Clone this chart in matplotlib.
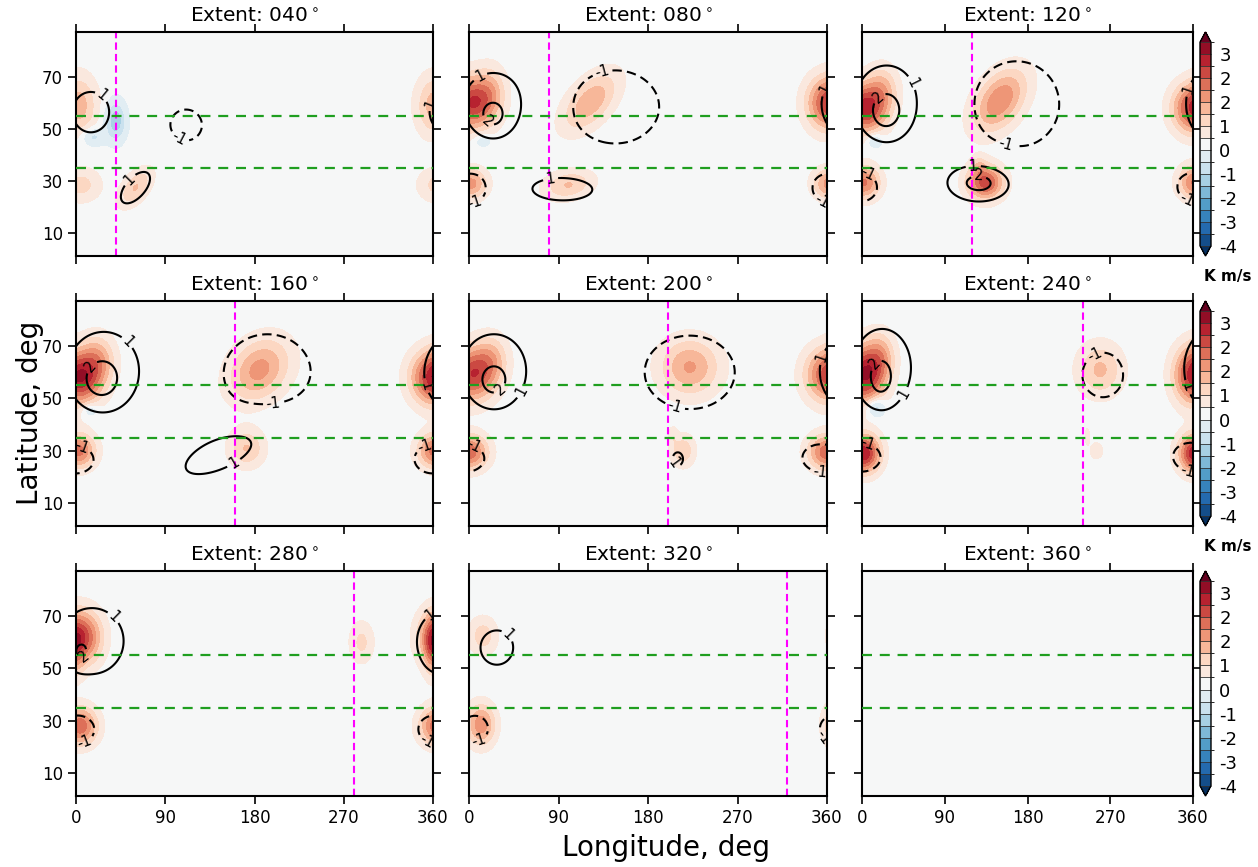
import numpy as np
import matplotlib
matplotlib.use("Agg")
import matplotlib.pyplot as plt
from matplotlib.colors import BoundaryNorm

# ---------------- data ----------------
extents = [40, 80, 120, 160, 200, 240, 280, 320, 360]
lat_lines = [35, 55]
x_ticks = [0, 90, 180, 270, 360]
y_ticks = [10, 30, 50, 70]
shade_levels = [-4.0, -3.5, -3.0, -2.5, -2.0, -1.5, -1.0, -0.5, 0.0,
                0.375, 0.75, 1.125, 1.5, 1.875, 2.25, 2.625, 3.0, 3.375]
cbar_ticks = [-4.0, -3.0, -2.0, -1.0, 0.0, 0.75, 1.5, 2.25, 3.0]
cbar_ticklabels = ['-4', '-3', '-2', '-1', '0', '1', '2', '2', '3']
line_levels = [-2, -1, 1, 2]
background_value = 0.15

# anomaly features: (lon, lat, amplitude, lon-width, lat-width, tilt)
shade_040 = [(2, 59, 1.2, 13, 8.0, 0.0), (5, 28.5, 0.75, 14, 4.5, 0.0),
             (40, 53, -1.6, 7, 5.0, 0.0), (17, 47, -0.9, 8, 2.5, 0.0),
             (60, 27.5, 1.0, 11.5, 4.2, 0.24)]
lines_040 = [(15, 56.5, 1.6, 19, 8, 0.0), (111, 51.5, -1.4, 19.5, 7.3, 0.0),
             (60, 27.5, 1.4, 18, 6, 0.24)]

shade_080 = [(2, 60, 2.4, 15, 7.0, 0.0), (22, 64, 0.9, 11, 7.0, 0.0),
             (122, 60.5, 1.3, 19, 6.5, 0.22), (2, 29, 1.5, 11, 4.0, 0.0),
             (100, 28.5, 1.0, 17, 3.8, 0.05), (14, 45.5, -0.7, 6, 1.8, 0.0)]
lines_080 = [(25, 60, 1.6, 31, 12, 0.0), (24, 54.5, 0.9, 11, 4.5, 0.0),
             (147, 58.5, -1.9, 39, 12.4, 0.0),
             (95, 27, 1.6, 32, 4.6, 0.0), (2, 27.5, -1.6, 17.5, 6.2, 0.0)]

shade_120 = [(2, 58, 2.6, 16, 6.5, 0.0), (22, 65, 1.0, 12, 6.5, 0.0),
             (150, 61, 1.7, 20, 7.5, 0.18), (134, 29.5, 2.3, 13.5, 4.5, 0.0),
             (127, 36, 0.5, 5, 2.5, 0.0), (2, 29.5, 1.8, 12, 4.4, 0.0),
             (14, 45.5, -0.9, 6, 2.0, 0.0)]
lines_120 = [(27, 61, 1.7, 32, 13, 0.0), (26, 55, 0.9, 15, 6, 0.0),
             (168, 59.5, -1.9, 41, 14.6, 0.0),
             (128, 29.5, 2.4, 27, 5.7, 0.0), (0, 28, -1.6, 18, 6, 0.0)]

shade_160 = [(2, 58, 2.8, 16, 7.0, 0.0), (22, 65, 1.1, 12, 6.5, 0.0),
             (185, 61, 1.5, 21, 8.0, 0.1), (2, 30, 1.9, 12, 4.6, 0.0),
             (172, 31, 1.0, 12.5, 5.0, 0.0), (14, 45.5, -0.8, 6, 1.8, 0.0)]
lines_160 = [(28, 61, 1.7, 34, 14, 0.0), (25, 56, 0.9, 15, 6, 0.0),
             (193, 59.5, -1.9, 39, 13.3, 0.0),
             (150, 30, 1.5, 44, 7.5, 0.15), (0, 27, -1.6, 20, 6, 0.0)]

shade_200 = [(2, 59, 2.3, 16, 7.0, 0.0), (22, 65, 1.0, 12, 6.5, 0.0),
             (222, 62, 1.4, 20.5, 7.5, 0.0), (0, 29.5, 2.0, 13, 4.6, 0.0),
             (215, 30, 0.9, 8.5, 4.2, 0.0), (205, 36, 0.4, 3, 2.5, 0.0)]
lines_200 = [(25, 61, 1.6, 33, 14, 0.0), (25, 56, 0.9, 12, 5, 0.0),
             (222, 60, -1.9, 40, 12.4, 0.0),
             (210, 27, 1.3, 8, 4, 0.0), (356, 27.5, -1.6, 22, 6, 0.0)]

shade_240 = [(2, 59, 2.8, 15, 7.5, 0.0), (20, 66, 1.1, 11, 6.5, 0.0),
             (259, 61, 1.05, 17, 7.0, 0.0), (245, 35.5, 0.45, 2, 2.5, 0.0),
             (255, 30, 0.55, 5, 2.3, 0.0), (2, 29, 2.8, 12, 5.0, 0.0),
             (15, 46.5, -1.2, 7, 2.5, 0.0)]
lines_240 = [(22, 62, 1.6, 32, 15, 0.0), (20, 57, 0.9, 11, 6, 0.0),
             (262, 59, -1.6, 23, 8.8, 0.0), (0, 28, -1.7, 22, 6, 0.0)]

shade_280 = [(6, 62, 2.3, 13.5, 7.0, 0.0), (288, 60, 0.7, 8.5, 5.5, 0.0),
             (4, 28, 2.0, 12, 5.0, 0.0), (359, 58, 1.0, 6, 7.5, 0.0)]
lines_280 = [(16, 60.5, 1.6, 33, 13, 0.0), (4, 56, 0.75, 7, 3.5, 0.0),
             (2, 27, -1.6, 18, 6, 0.0)]

shade_320 = [(14, 62.5, 0.8, 10, 5.0, 0.0), (12, 28.5, 1.6, 10, 5.5, 0.0)]
lines_320 = [(28, 58, 1.4, 20, 8, 0.0), (6, 27, -1.4, 16, 6, 0.0)]

shade_360 = []
lines_360 = []

shade_sets = [shade_040, shade_080, shade_120, shade_160, shade_200,
              shade_240, shade_280, shade_320, shade_360]
line_sets = [lines_040, lines_080, lines_120, lines_160, lines_200,
             lines_240, lines_280, lines_320, lines_360]

# ---------------- grid ----------------
lon = np.linspace(0, 360, 361)
lat = np.linspace(1.2, 87.3, 173)
LON, LAT = np.meshgrid(lon, lat)


def build(features):
    Z = np.zeros_like(LON)
    for lon0, lat0, amp, sx, sy, tilt in features:
        dlon = (LON - lon0 + 180.0) % 360.0 - 180.0
        dlat = LAT - lat0 - tilt * dlon
        Z += amp * np.exp(-0.5 * ((dlon / sx) ** 2 + (dlat / sy) ** 2))
    return Z


# ---------------- figure ----------------
W, H = 1258, 867
fig = plt.figure(figsize=(W / 100, H / 100), dpi=100)
plt.rcParams['font.family'] = ['DejaVu Sans']

col_px = [(76, 433), (469, 827), (862, 1193)]
row_px = [(32, 256), (301, 526), (571, 796)]
cbar_px = (1200, 1211)

cmap = plt.get_cmap('RdBu_r')

green = '#1f9e1f'
magenta = '#ff00ff'
neg_dash = (0, (4.5, 2.5))
line_styles = [neg_dash if lv < 0 else 'solid' for lv in line_levels]

colorbars = []
for i, ext in enumerate(extents):
    r, c = divmod(i, 3)
    x0, x1 = col_px[c]
    y0, y1 = row_px[r]
    ax = fig.add_axes([x0 / W, 1 - y1 / H, (x1 - x0) / W, (y1 - y0) / H])
    ax.set_facecolor('#f7f7f7')
    norm = BoundaryNorm(shade_levels, ncolors=cmap.N, extend='both')
    Zs = background_value + build(shade_sets[i])
    cf = ax.contourf(LON, LAT, Zs, levels=shade_levels, cmap=cmap, norm=norm,
                     extend='both')
    if line_sets[i]:
        Zl = build(line_sets[i])
        cs = ax.contour(LON, LAT, Zl, levels=line_levels, colors='k',
                        linewidths=1.5, linestyles=line_styles)
        ax.clabel(cs, fmt='%d', fontsize=10.5, inline=True, inline_spacing=3)
    for la in lat_lines:
        ax.axhline(la, color=green, lw=1.6, dashes=(4.5, 3.5), zorder=3)
    ax.axvline(ext, color=magenta, lw=1.5, dashes=(3.5, 2.0), zorder=2.4)
    ax.set_xlim(0, 360)
    ax.set_ylim(1.2, 87.3)
    ax.set_xticks(x_ticks)
    ax.set_yticks(y_ticks)
    ax.tick_params(direction='out', length=6, width=1.2, top=True, right=True,
                   labelsize=12, labelbottom=(r == 2), labelleft=(c == 0))
    for sp in ax.spines.values():
        sp.set_linewidth(1.5)
    ax.set_title('Extent: %03d$^\\circ$' % ext, fontsize=14.5, pad=7)

    if c == 2:
        cax = fig.add_axes([cbar_px[0] / W, 1 - y1 / H,
                            (cbar_px[1] - cbar_px[0]) / W, (y1 - y0) / H])
        cb = fig.colorbar(cf, cax=cax, extend='both', drawedges=True)
        colorbars.append(cb)
        if r < 2:
            fig.text(1228 / W, 1 - (y1 + 21) / H, 'K m/s', fontsize=11,
                     fontweight='bold', ha='center', va='center')

for cb in colorbars:
    cb.set_ticks(cbar_ticks, labels=cbar_ticklabels)
    cb.ax.tick_params(length=0, labelsize=13, pad=6)
    cb.dividers.set_color('#333333')
    cb.dividers.set_linewidth(0.6)
    cb.outline.set_linewidth(1.0)

fig.text(30 / W, 1 - 413 / H, 'Latitude, deg', rotation=90, fontsize=20,
         ha='center', va='center')
fig.text(666 / W, 1 - 848 / H, 'Longitude, deg', fontsize=20,
         ha='center', va='center')

fig.savefig('out.png', dpi=100)
